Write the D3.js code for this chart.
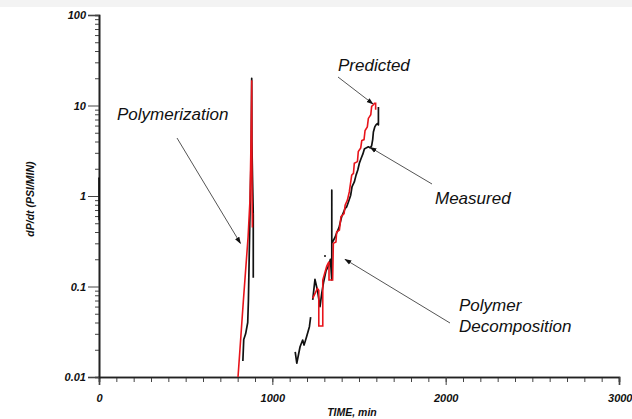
<!DOCTYPE html>
<html>
<head>
<meta charset="utf-8">
<script src="https://cdn.jsdelivr.net/npm/d3@7"></script>
<style>
  html, body { margin: 0; padding: 0; background: #fff; }
  svg { display: block; }
  .tick text { font-family: "Liberation Sans", Arial, sans-serif; font-weight: bold; font-style: italic; font-size: 11px; fill: #111; }
  .note { font-family: "Liberation Sans", Arial, sans-serif; font-style: italic; font-size: 17px; fill: #111; }
  .title { font-family: "Liberation Sans", Arial, sans-serif; font-style: italic; font-weight: bold; font-size: 10.5px; fill: #111; }
</style>
</head>
<body>
<svg id="chart" width="632" height="419"></svg>
<script>
// Axis ticks
const xMajorTicks = [0, 1000, 2000, 3000];
const yMajorTicks = [0.01, 0.1, 1, 10, 100];
const yTickLabels = ["0.01", "0.1", "1", "10", "100"];

// Time (min) and dP/dt (psi/min) readings
const measuredStartTime = [0, 1];
const measuredStartRate = [1.6, 0.54];

const measuredPolyTime = [830, 835, 846, 858, 862, 870, 878, 881, 882, 886, 890, 890];
const measuredPolyRate = [0.015, 0.026, 0.03, 0.04, 0.07, 0.5, 3, 20, 4, 1.5, 0.62, 0.125];

const predictedPolyTime = [802, 833, 860, 871, 877, 880, 881, 883, 885, 886];
const predictedPolyRate = [0.01, 0.07, 0.35, 0.9, 4, 12, 19, 1.0, 0.45, 0.65];

// null marks a gap in the recorded trace
const measuredDecompTime = [1132, 1141, 1160, 1175, 1183, 1198, 1214, 1221, null,
  1233, 1246, 1260, 1275, 1285, 1295, 1310, 1325, 1335, 1343, 1343, 1343,
  1362, 1371, 1385, 1400, 1420, 1429, 1439, 1452, 1460, 1473, 1483, 1493, 1502,
  1512, 1522, 1531, 1541, 1554, 1564, 1573, 1579, 1583, 1591, 1598, 1606, 1612, 1612];
const measuredDecompRate = [0.019, 0.0142, 0.0216, 0.0256, 0.0225, 0.028, 0.036, 0.046, null,
  0.071, 0.12, 0.091, 0.06, 0.084, 0.11, 0.15, 0.17, 0.2, 0.118, 1.16, 0.3,
  0.35, 0.39, 0.45, 0.59, 0.73, 0.76, 0.86, 1.02, 1.27, 1.43, 1.7, 1.94, 2.3,
  2.6, 2.9, 3.3, 3.4, 3.5, 3.4, 3.6, 4.2, 5.1, 5.8, 6.1, 6.3, 6.1, 9.6];

const predictedDecompTime = [1233, 1260, 1268, 1268, 1291, 1291, 1314, 1327, 1327, 1348, 1352,
  1367, 1371, 1387, 1396, 1414, 1420, 1433, 1444, 1458, 1468, 1473, 1491, 1496,
  1510, 1516, 1529, 1535, 1548, 1554, 1568, 1573, 1583, 1589, 1596, 1596];
const predictedDecompRate = [0.074, 0.095, 0.091, 0.0366, 0.0366, 0.118, 0.168, 0.188, 0.118, 0.118, 0.3,
  0.31, 0.4, 0.42, 0.59, 0.64, 0.79, 0.9, 1.11, 1.7, 1.78, 2.3, 2.4, 3.1,
  3.4, 4.1, 4.2, 5.3, 5.8, 7.2, 7.9, 9.8, 10.2, 10.6, 10.6, 9.0];

const strayPointTime = [1304];
const strayPointRate = [0.217];

// Callouts: label lines and arrow tips (data coordinates)
const noteLabels = [["Polymerization"], ["Predicted"], ["Measured"], ["Polymer", "Decomposition"]];
const noteTipTime = [816, 1581, 1564, 1419];
const noteTipRate = [0.30, 10.4, 3.45, 0.20];

const svg = d3.select("#chart");
const x = d3.scaleLinear().domain([0, 3000]).range([99, 619]);
const y = d3.scaleLog().domain([0.01, 100]).range([377, 15]);

function zip(t, v) { return t.map((d, i) => ({ t: d, v: v[i] })); }

// faint band along the top edge
svg.append("rect").attr("x", 0).attr("y", 0).attr("width", 632).attr("height", 7)
  .attr("fill", "#f3f3f3");

// arrowhead marker
svg.append("defs").append("marker")
  .attr("id", "head").attr("viewBox", "0 0 10 10")
  .attr("refX", 9).attr("refY", 5)
  .attr("markerWidth", 7).attr("markerHeight", 7)
  .attr("orient", "auto")
  .append("path").attr("d", "M0,1.5 L10,5 L0,8.5 Z").attr("fill", "#111");

// x axis: minor ticks every 100, labelled majors every 1000
const gx = svg.append("g").attr("transform", `translate(0,${y(0.01)})`);
gx.call(d3.axisBottom(x).tickValues(d3.range(0, 3001, 100)).tickSize(5).tickFormat(""));
gx.append("g").call(d3.axisBottom(x).tickValues(xMajorTicks).tickSize(8).tickPadding(9).tickFormat(d3.format("d")));
gx.selectAll("path.domain").attr("stroke", "#222").attr("stroke-width", 1.6);
gx.selectAll(".tick line").attr("stroke", "#444").attr("stroke-width", 1);
gx.selectAll(".tick text").filter(d => d === 3000).attr("text-anchor", "end").attr("dx", "13");

// y axis: log minor ticks, labelled decades
const minorY = [];
for (let e = -2; e < 2; e++) for (let m = 2; m <= 9; m++) minorY.push(m * Math.pow(10, e));
const gy = svg.append("g").attr("transform", `translate(${x(0)},0)`);
gy.call(d3.axisLeft(y).tickValues(minorY).tickSize(4).tickFormat(""));
gy.append("g").call(d3.axisLeft(y).tickValues(yMajorTicks).tickSize(11).tickPadding(2)
  .tickFormat((d, i) => yTickLabels[i]));
gy.selectAll("path.domain").attr("stroke", "#222").attr("stroke-width", 1.6);
gy.selectAll(".tick line").attr("stroke", "#444").attr("stroke-width", 1);

// axis titles
svg.append("text").attr("class", "title")
  .attr("transform", `translate(34,${199}) rotate(-90)`)
  .attr("text-anchor", "middle").text("dP/dt (PSI/MIN)");
svg.append("text").attr("class", "title")
  .attr("x", 352).attr("y", 416).attr("text-anchor", "middle").text("TIME, min");

const line = d3.line()
  .defined(d => d.t !== null)
  .x(d => x(d.t)).y(d => y(d.v));

const plot = svg.append("g");
const measured = [
  zip(measuredStartTime, measuredStartRate),
  zip(measuredPolyTime, measuredPolyRate),
  zip(measuredDecompTime, measuredDecompRate)
];
const predicted = [
  zip(predictedPolyTime, predictedPolyRate),
  zip(predictedDecompTime, predictedDecompRate)
];
plot.selectAll("path.measured").data(measured).join("path")
  .attr("class", "measured").attr("d", line)
  .attr("fill", "none").attr("stroke", "#111").attr("stroke-width", 1.7)
  .attr("stroke-linejoin", "round");
plot.selectAll("path.predicted").data(predicted).join("path")
  .attr("class", "predicted").attr("d", line)
  .attr("fill", "none").attr("stroke", "#e8141b").attr("stroke-width", 1.6)
  .attr("stroke-linejoin", "miter");
plot.selectAll("circle.stray").data(zip(strayPointTime, strayPointRate)).join("circle")
  .attr("class", "stray").attr("cx", d => x(d.t)).attr("cy", d => y(d.v)).attr("r", 1)
  .attr("fill", "#111");

// callouts
const noteText = [[117, 120], [338, 71], [435, 204], [459, 311]];
const noteTail = [[177, 138], [338, 77], [432, 184], [450, 323]];
const notes = svg.append("g");
noteLabels.forEach((lines, i) => {
  const t = notes.append("text").attr("class", "note")
    .attr("x", noteText[i][0]).attr("y", noteText[i][1]);
  lines.forEach((s, j) => t.append("tspan").attr("x", noteText[i][0]).attr("dy", j ? 21 : 0).text(s));
  notes.append("line")
    .attr("x1", noteTail[i][0]).attr("y1", noteTail[i][1])
    .attr("x2", x(noteTipTime[i])).attr("y2", y(noteTipRate[i]))
    .attr("stroke", "#555").attr("stroke-width", 1)
    .attr("marker-end", "url(#head)");
});
</script>
</body>
</html>
